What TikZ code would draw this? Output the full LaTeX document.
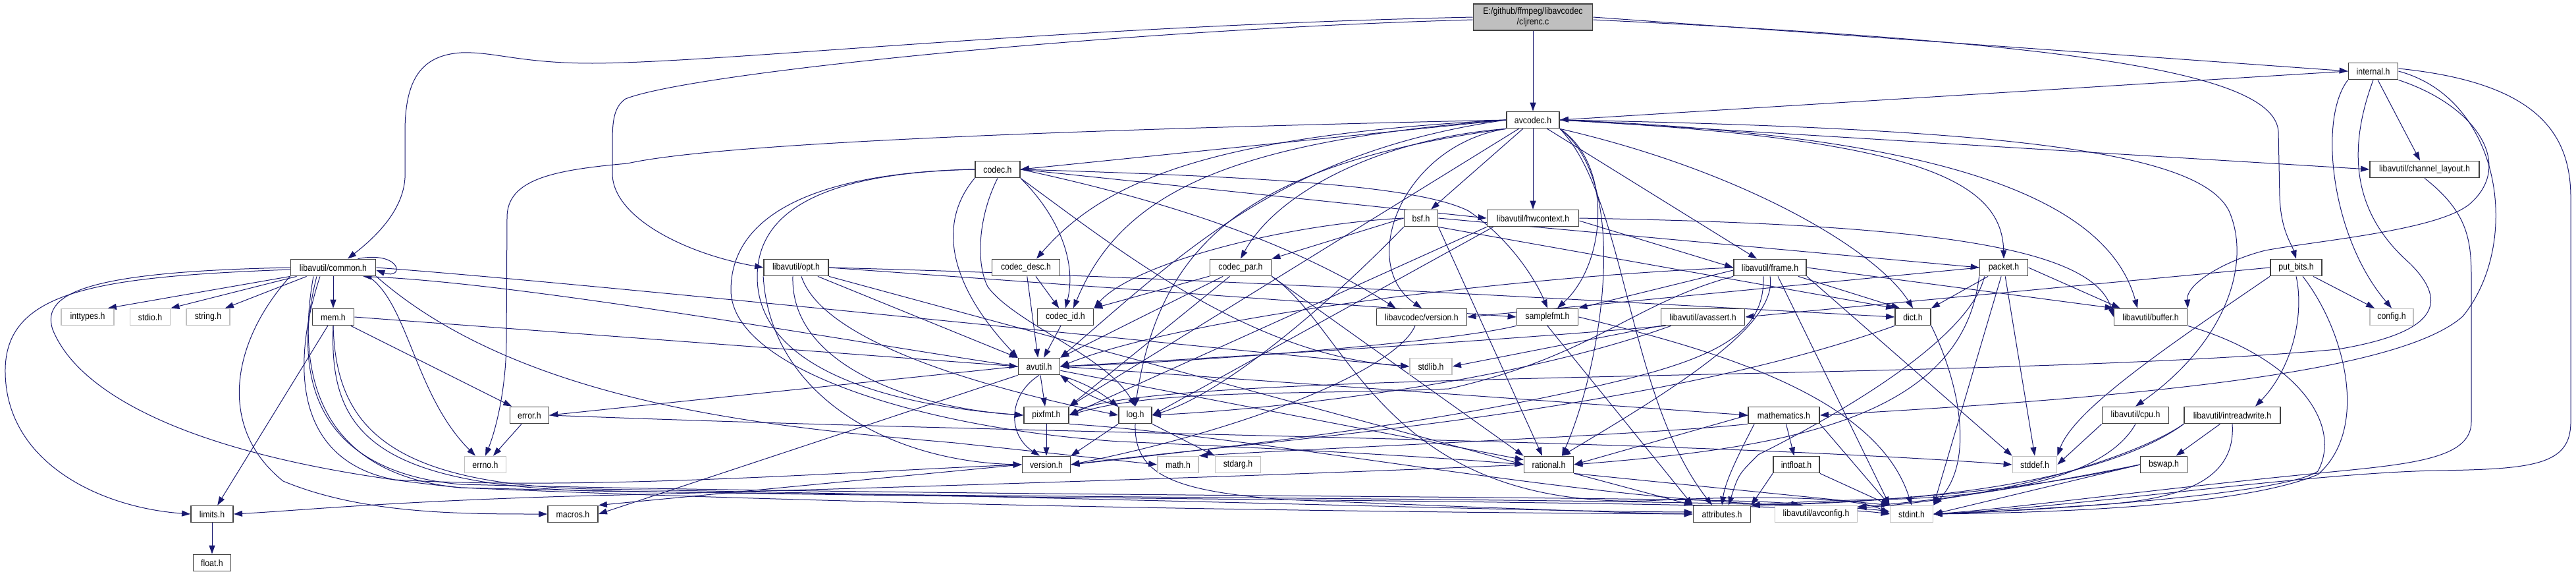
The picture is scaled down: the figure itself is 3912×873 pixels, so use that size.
\documentclass[tikz,border=0pt]{standalone}
\usepackage{fontspec}
\newfontfamily\dxfont{Liberation Sans}[FakeStretch=0.88]
\usetikzlibrary{arrows.meta}
\definecolor{edgec}{HTML}{191970}
\definecolor{ndb}{HTML}{404040}
\definecolor{ndg}{HTML}{BFBFBF}
\pgfdeclarelayer{bglayer}
\pgfdeclarelayer{edgelayer}
\pgfsetlayers{bglayer,edgelayer,main}
\begin{document}
\begin{tikzpicture}[x=1pt,y=1pt,
  nd/.style={draw=ndb, line width=1.8pt, fill=white, minimum height=25pt, inner sep=0pt, text=black, font=\dxfont\fontsize{14}{16}\selectfont},
  gnd/.style={nd, draw=ndg},
  dep/.style={draw=edgec, line width=1pt, -{Triangle[length=13pt,width=9pt]}}]
\useasboundingbox (0,0) rectangle (3912,-873);
\begin{pgfonlayer}{bglayer}
\fill[white] (0,0) rectangle (3912,-873);
\end{pgfonlayer}
% nodes
\node[nd, fill=ndg, minimum width=181pt, minimum height=40pt, align=center] (top) at (2328,-26) {E:/github/ffmpeg/libavcodec\\/cljrenc.c};
\node[nd, minimum width=80pt] (avcodec) at (2328,-182) {avcodec.h};
\node[nd, minimum width=75pt] (internal) at (3604,-108) {internal.h};
\node[nd, minimum width=68pt] (codec) at (1515,-257) {codec.h};
\node[nd, minimum width=166pt] (chlayout) at (3682,-257) {libavutil/channel\_layout.h};
\node[nd, minimum width=51pt] (bsf) at (2158,-331) {bsf.h};
\node[nd, minimum width=139pt] (hwctx) at (2328,-331) {libavutil/hwcontext.h};
\node[nd, minimum width=129pt] (common) at (506,-406) {libavutil/common.h};
\node[nd, minimum width=98pt] (opt) at (1209,-406) {libavutil/opt.h};
\node[nd, minimum width=103pt] (cdesc) at (1558,-406) {codec\_desc.h};
\node[nd, minimum width=93pt] (cpar) at (1884,-406) {codec\_par.h};
\node[nd, minimum width=110pt] (frame) at (2688,-406) {libavutil/frame.h};
\node[nd, minimum width=73pt] (packet) at (3043,-406) {packet.h};
\node[nd, minimum width=78pt] (putbits) at (3487,-406) {put\_bits.h};
\node[gnd, minimum width=80pt] (inttypes) at (133,-481) {inttypes.h};
\node[gnd, minimum width=61pt] (stdio) at (228,-481) {stdio.h};
\node[gnd, minimum width=66pt] (string) at (316,-481) {string.h};
\node[nd, minimum width=63pt] (mem) at (506,-481) {mem.h};
\node[nd, minimum width=85pt] (codecid) at (1618,-481) {codec\_id.h};
\node[nd, minimum width=137pt] (lavcver) at (2159,-481) {libavcodec/version.h};
\node[nd, minimum width=93pt] (samplefmt) at (2350,-481) {samplefmt.h};
\node[nd, minimum width=127pt] (avassert) at (2586,-481) {libavutil/avassert.h};
\node[nd, minimum width=54pt] (dict) at (2905,-481) {dict.h};
\node[nd, minimum width=111pt] (buffer) at (3266,-481) {libavutil/buffer.h};
\node[gnd, minimum width=66pt] (config) at (3632,-481) {config.h};
\node[nd, minimum width=63pt] (avutil) at (1578,-556) {avutil.h};
\node[gnd, minimum width=64pt] (stdlib) at (2173,-556) {stdlib.h};
\node[nd, minimum width=59pt] (error) at (804,-630) {error.h};
\node[nd, minimum width=68pt] (pixfmt) at (1589,-630) {pixfmt.h};
\node[nd, minimum width=50pt] (log) at (1724,-630) {log.h};
\node[nd, minimum width=108pt] (mathematics) at (2709,-630) {mathematics.h};
\node[nd, minimum width=101pt] (cpu) at (3243,-630) {libavutil/cpu.h};
\node[nd, minimum width=146pt] (intrw) at (3390,-630) {libavutil/intreadwrite.h};
\node[gnd, minimum width=63pt] (errno) at (737,-705) {errno.h};
\node[nd, minimum width=73pt] (version) at (1589,-705) {version.h};
\node[gnd, minimum width=62pt] (math) at (1789,-705) {math.h};
\node[gnd, minimum width=69pt] (stdarg) at (1880,-705) {stdarg.h};
\node[nd, minimum width=75pt] (rational) at (2352,-705) {rational.h};
\node[nd, minimum width=70pt] (intfloat) at (2728,-705) {intfloat.h};
\node[gnd, minimum width=67pt] (stddef) at (3090,-705) {stddef.h};
\node[nd, minimum width=71pt] (bswap) at (3286,-705) {bswap.h};
\node[nd, minimum width=64pt] (limits) at (322,-780) {limits.h};
\node[nd, minimum width=76pt] (macros) at (870,-780) {macros.h};
\node[nd, minimum width=87pt] (attributes) at (2615,-780) {attributes.h};
\node[gnd, minimum width=125pt] (avconfig) at (2758,-780) {libavutil/avconfig.h};
\node[gnd, minimum width=65pt] (stdint) at (2903,-780) {stdint.h};
\node[nd, minimum width=57pt] (float) at (322,-854) {float.h};
\begin{pgfonlayer}{edgelayer}
% top
\draw[dep] (top) -- (avcodec);
\draw[dep] (top.west) .. controls (1600,-40) and (1100,-95) .. (900,-96) .. controls (790,-96) and (750,-78) .. (700,-80) .. controls (640,-84) and (615,-120) .. (615,-200) -- (615,-270) .. controls (612,-320) and (570,-360) .. ([xshift=22pt]common.north);
\draw[dep] ([yshift=-4pt]top.west) .. controls (1700,-45) and (1050,-110) .. (950,-150) .. controls (932,-162) and (930,-185) .. (930,-215) -- (930,-265) .. controls (932,-330) and (1040,-385) .. (opt.west);
\draw[dep] (top.east) -- (internal.west);
\draw[dep] ([yshift=-4pt]top.east) .. controls (3150,-65) and (3455,-110) .. (3460,-200) -- (3462,-300) .. controls (3464,-350) and (3480,-370) .. (putbits.north);
% avcodec
\draw[dep] (avcodec.west) .. controls (1700,-195) and (1100,-215) .. (953,-248) .. controls (840,-258) and (770,-272) .. (770,-330) -- (769,-520) .. controls (768,-600) and (750,-660) .. (errno.north);
\draw[dep] (avcodec.west) -- (codec.east);
\draw[dep] (avcodec.west) .. controls (1850,-205) and (1680,-270) .. ([xshift=16pt]cdesc.north);
\draw[dep] (avcodec.south west) .. controls (2100,-210) and (1940,-290) .. (cpar.north);
\draw[dep] (avcodec) -- (bsf);
\draw[dep] (avcodec) -- (hwctx);
\draw[dep] (avcodec.west) .. controls (1850,-215) and (1700,-300) .. ([xshift=12pt]codecid.north);
\draw[dep] (avcodec.west) .. controls (1950,-230) and (1800,-380) .. (avutil.north east);
\draw[dep] (avcodec.south west) .. controls (1880,-250) and (1760,-380) .. (log.north);
\draw[dep] (avcodec) -- (pixfmt.north east);
\draw[dep] (avcodec.south east) .. controls (2480,-280) and (2430,-560) .. ([xshift=20pt]rational.north);
\draw[dep] (avcodec.south east) .. controls (2450,-250) and (2440,-400) .. ([xshift=15pt]samplefmt.north);
\draw[dep] (avcodec.south west) .. controls (2130,-220) and (2060,-400) .. (lavcver.north);
\draw[dep] (avcodec) -- ([xshift=-20pt]frame.north);
\draw[dep] (avcodec.east) .. controls (2900,-210) and (3040,-270) .. (packet.north);
\draw[dep] (avcodec.south east) .. controls (2650,-260) and (2850,-380) .. (dict.north);
\draw[dep] (avcodec.east) .. controls (2950,-205) and (3200,-300) .. ([xshift=-20pt]buffer.north);
\draw[dep] (avcodec.east) .. controls (3050,-195) and (3340,-230) .. (3385,-320) .. controls (3420,-400) and (3380,-520) .. (cpu.north);
\draw[dep] (avcodec.east) -- (chlayout.west);
\draw[dep] (avcodec.south east) .. controls (2470,-300) and (2470,-600) .. ([xshift=-15pt]attributes.north);
% internal
\draw[dep] (internal.west) -- (avcodec.east);
\draw[dep] (internal) -- (chlayout);
\draw[dep] (internal.south west) .. controls (3520,-180) and (3540,-360) .. (config.north);
\draw[dep] (internal.south east) .. controls (3760,-160) and (3820,-250) .. (3750,-310) .. controls (3700,-350) and (3520,-365) .. (3440,-380) .. controls (3380,-395) and (3320,-430) .. (buffer.north east);
\draw[dep] (internal.south) .. controls (3560,-240) and (3580,-330) .. (3660,-400) .. controls (3720,-460) and (3700,-505) .. (3550,-530) .. controls (3000,-580) and (1750,-560) .. (pixfmt.east);
\draw[dep] (internal.east) .. controls (3800,-150) and (3830,-370) .. (3740,-480) .. controls (3650,-560) and (3300,-600) .. (mathematics.east);
\draw[dep] ([yshift=4pt]internal.east) .. controls (3850,-125) and (3904,-200) .. (3904,-300) -- (3904,-640) .. controls (3904,-705) and (3850,-712) .. (3700,-714) .. controls (3500,-718) and (3150,-770) .. (stdint.east);
% put_bits
\draw[dep] (putbits) -- (config);
\draw[dep] (putbits.south) .. controls (3500,-480) and (3480,-560) .. ([xshift=35pt]intrw.north);
\draw[dep] ([xshift=10pt]putbits.south) .. controls (3560,-500) and (3600,-650) .. (3520,-720) .. controls (3400,-770) and (3100,-778) .. (stdint.east);
\draw[dep] (putbits.south west) .. controls (3300,-520) and (3150,-620) .. (stddef.north east);
\draw[dep] (putbits.west) -- (avassert.east);
% common
\draw[dep] (common.south west) -- ([xshift=-10pt]inttypes.north east);
\draw[dep] ([xshift=10pt]common.south west) -- (stdio.north east);
\draw[dep] ([xshift=25pt]common.south west) -- ([xshift=-8pt]string.north east);
\draw[dep] (common) -- (mem);
\draw[dep] ([yshift=-3pt]common.west) .. controls (150,-420) and (10,-440) .. (8,-560) .. controls (6,-700) and (150,-770) .. (limits.west);
\draw[dep] ([xshift=-12pt]common.south east) .. controls (620,-460) and (630,-600) .. ([xshift=-15pt]errno.north);
\draw[dep] (common.south east) .. controls (800,-620) and (1200,-650) .. (1450,-672) -- (math.west);
\draw[dep] ([xshift=-30pt]common.south) .. controls (450,-560) and (480,-720) .. (700,-740) .. controls (1500,-760) and (2700,-758) .. (stdint.west);
\draw[dep] ([xshift=-20pt]common.south) .. controls (440,-560) and (450,-700) .. (600,-728) .. controls (900,-745) and (1300,-715) .. (version.west);
\draw[dep] (common.south west) .. controls (350,-520) and (330,-650) .. (430,-730) .. controls (550,-780) and (700,-780) .. (macros.west);
\draw[dep] ([xshift=-25pt]common.south) .. controls (445,-560) and (470,-715) .. (700,-735) .. controls (1500,-755) and (2650,-752) .. ([xshift=-25pt]avconfig.north);
\draw[dep] (common.east) .. controls (900,-430) and (1900,-535) .. (stdlib.west);
\draw[dep] (common.west) .. controls (150,-412) and (60,-440) .. (80,-500) .. controls (120,-600) and (300,-700) .. (700,-740) .. controls (1400,-770) and (2200,-778) .. (attributes.west);
\draw[dep] ([xshift=-28pt]common.north east) .. controls (610,-380) and (615,-425) .. ([yshift=-4pt]common.east);
% mem
\draw[dep] (mem) -- (limits);
\draw[dep] (mem.south) .. controls (500,-650) and (560,-735) .. (900,-745) .. controls (1800,-758) and (2700,-756) .. ([yshift=4pt]stdint.west);
\draw[dep] (mem.south) .. controls (510,-640) and (580,-735) .. (900,-742) .. controls (1700,-755) and (2300,-776) .. ([yshift=3pt]attributes.west);
\draw[dep] (mem) -- (error);
\draw[dep] (mem.east) -- (avutil.west);
% opt
\draw[dep] (opt.south east) -- (rational.west);
\draw[dep] (opt) -- (avutil);
\draw[dep] (opt.east) .. controls (1800,-420) and (2400,-455) .. (dict.west);
\draw[dep] ([xshift=8pt]opt.south) .. controls (1250,-520) and (1500,-590) .. (log.west);
\draw[dep] ([xshift=-5pt]opt.south) .. controls (1200,-560) and (1400,-620) .. (pixfmt.west);
\draw[dep] (opt.east) -- (samplefmt.west);
\draw[dep] (opt.south west) .. controls (1170,-600) and (1350,-700) .. (version.west);
% codec
\draw[dep] (codec.south west) .. controls (1430,-330) and (1430,-420) .. (avutil.north west);
\draw[dep] (codec.south) .. controls (1485,-330) and (1482,-400) .. (1500,-435) .. controls (1540,-490) and (1680,-540) .. (log.north);
\draw[dep] (codec.south east) .. controls (1610,-330) and (1635,-400) .. (codecid.north);
\draw[dep] (codec.east) -- (hwctx.west);
\draw[dep] (codec.east) .. controls (1900,-268) and (2150,-280) .. (2230,-320) .. controls (2290,-360) and (2330,-420) .. (samplefmt.north);
\draw[dep] (codec.east) .. controls (1750,-300) and (1950,-360) .. ([xshift=30pt]lavcver.north west);
\draw[dep] (codec.west) .. controls (1250,-262) and (1150,-320) .. (1150,-420) .. controls (1150,-560) and (1350,-615) .. (pixfmt.west);
\draw[dep] (codec.west) .. controls (1230,-262) and (1110,-330) .. (1110,-440) .. controls (1110,-560) and (1400,-650) .. (1700,-670) .. controls (2000,-683) and (2200,-695) .. (rational.west);
\draw[dep] (codec.south east) .. controls (1700,-380) and (1900,-540) .. (stdlib.west);
% codec_desc
\draw[dep] (cdesc) -- (avutil);
\draw[dep] ([xshift=15pt]cdesc.south) -- (codecid);
% codec_par
\draw[dep] (cpar) -- (codecid.north east);
\draw[dep] (cpar) -- (avutil.north east);
\draw[dep] (cpar) -- (pixfmt.north east);
\draw[dep] (cpar.south east) -- (rational.north west);
\draw[dep] (cpar.south east) .. controls (2050,-500) and (2100,-770) .. (2500,-760) .. controls (2650,-752) and (2820,-752) .. (stdint.west);
% bsf
\draw[dep] (bsf.east) -- (packet.west);
\draw[dep] (bsf.south east) -- (dict.north west);
\draw[dep] (bsf.south west) .. controls (2000,-480) and (1850,-600) .. (log.east);
\draw[dep] (bsf.south east) -- ([xshift=-10pt]rational.north);
\draw[dep] (bsf.west) .. controls (1950,-340) and (1720,-400) .. (codecid.north east);
\draw[dep] (bsf.west) -- (cpar.north east);
% hwcontext
\draw[dep] (hwctx.east) .. controls (2900,-340) and (3180,-370) .. (buffer.west);
\draw[dep] ([yshift=-4pt]hwctx.east) -- (frame.west);
\draw[dep] ([xshift=10pt]hwctx.south west) -- (log.east);
\draw[dep] (hwctx.south west) -- (pixfmt.east);
% frame
\draw[dep] (frame.south east) -- (stddef.north west);
\draw[dep] ([xshift=12pt]frame.south) -- (stdint.north west);
\draw[dep] (frame.west) .. controls (2300,-420) and (1800,-480) .. (avutil.east);
\draw[dep] (frame.east) -- (buffer.north west);
\draw[dep] (frame) -- ([xshift=8pt]dict.north west);
\draw[dep] (frame.south) .. controls (2700,-490) and (2560,-580) .. ([xshift=20pt]rational.north);
\draw[dep] ([yshift=-4pt]frame.west) -- (samplefmt.north east);
\draw[dep] (frame.south west) .. controls (2480,-460) and (2420,-540) .. (2200,-590) .. controls (1950,-600) and (1760,-590) .. (pixfmt.east);
\draw[dep] ([xshift=-10pt]frame.south) .. controls (2680,-500) and (2620,-540) .. (2450,-580) .. controls (2200,-640) and (1900,-675) .. (version.east);
% packet
\draw[dep] (packet) -- (stddef.north);
\draw[dep] (packet) -- (stdint.north east);
\draw[dep] ([xshift=8pt]packet.south west) .. controls (2990,-520) and (2770,-640) .. (2670,-690) .. controls (2640,-720) .. ([xshift=10pt]attributes.north);
\draw[dep] (packet.east) -- ([xshift=10pt]buffer.north west);
\draw[dep] (packet) -- (dict.north east);
\draw[dep] (packet.south west) .. controls (2980,-640) and (2700,-680) .. (rational.east);
\draw[dep] (packet.west) -- (lavcver.east);
% channel_layout
\draw[dep] (chlayout.south) .. controls (3745,-320) and (3753,-360) .. (3753,-420) -- (3753,-640) .. controls (3753,-700) and (3650,-705) .. (3500,-720) .. controls (3250,-745) and (3050,-772) .. (stdint.east);
% libavcodec/version
\draw[dep] ([xshift=-10pt]lavcver.south) .. controls (2120,-560) and (1900,-650) .. (version.east);
% samplefmt
\draw[dep] (samplefmt.east) .. controls (2600,-530) and (2850,-600) .. (stdint.north);
\draw[dep] (samplefmt.south west) .. controls (2200,-520) and (1800,-550) .. (avutil.east);
\draw[dep] (samplefmt.south) -- (attributes.north west);
% avassert
\draw[dep] (avassert.south west) -- (stdlib.east);
\draw[dep] ([xshift=8pt]avassert.south west) .. controls (2300,-515) and (1900,-540) .. (avutil.east);
\draw[dep] ([xshift=16pt]avassert.south west) .. controls (2300,-580) and (1950,-620) .. (log.east);
% dict
\draw[dep] (dict.south east) .. controls (2975,-580) and (3000,-700) .. (stdint.north east);
\draw[dep] (dict.south west) .. controls (2500,-630) and (1900,-670) .. (version.east);
% buffer
\draw[dep] (buffer.south east) .. controls (3480,-540) and (3560,-640) .. (3520,-715) .. controls (3470,-750) and (3100,-775) .. (stdint.east);
% cpu
\draw[dep] (cpu.south west) -- (stddef.east);
\draw[dep] (cpu.south) .. controls (3200,-720) and (3050,-755) .. (2850,-758) .. controls (2750,-760) and (2700,-764) .. (attributes.north east);
% intreadwrite
\draw[dep] (intrw.south) .. controls (3395,-720) and (3330,-755) .. (3200,-765) .. controls (3050,-775) .. (stdint.east);
\draw[dep] (intrw.south west) .. controls (3250,-690) and (3050,-755) .. ([yshift=-4pt]avconfig.north east);
\draw[dep] (intrw.south west) .. controls (3240,-700) and (3050,-760) .. (attributes.north east);
\draw[dep] (intrw) -- (bswap);
% bswap
\draw[dep] (bswap.west) -- (stdint.east);
\draw[dep] (bswap.west) .. controls (3100,-735) and (2950,-760) .. ([yshift=-2pt]avconfig.north east);
\draw[dep] (bswap.west) .. controls (3100,-740) and (2900,-760) .. (attributes.north east);
% mathematics
\draw[dep] (mathematics.south east) -- (stdint.north west);
\draw[dep] (mathematics.south west) .. controls (2500,-660) and (2000,-680) .. (math.north east);
\draw[dep] ([xshift=10pt]mathematics.south west) .. controls (2640,-690) and (2620,-730) .. (attributes.north);
\draw[dep] (mathematics.west) -- (rational.east);
\draw[dep] (mathematics) -- (intfloat);
% intfloat
\draw[dep] (intfloat.south east) -- (stdint.north west);
\draw[dep] (intfloat.south west) -- (attributes.north east);
% avutil
\draw[dep] (avutil.west) .. controls (1300,-520) and (800,-430) .. ([xshift=-20pt]common.south east);
\draw[dep] (avutil.west) -- (error.east);
\draw[dep] (avutil) -- (rational);
\draw[dep] (avutil.south) .. controls (1530,-600) and (1530,-660) .. ([xshift=-10pt]version.north);
\draw[dep] (avutil.south west) -- (macros.east);
\draw[dep] (avutil.east) -- (mathematics.west);
\draw[dep] (avutil.south east) to[bend left=10] (log.north west);
\draw[dep] (avutil) -- (pixfmt);
% error
\draw[dep] (error) -- (errno);
\draw[dep] (error.east) .. controls (1600,-660) and (2500,-665) .. (stddef.west);
% pixfmt
\draw[dep] (pixfmt) -- (version);
\draw[dep] (pixfmt.south east) .. controls (1900,-660) and (2400,-760) .. ([xshift=-20pt]avconfig.north);
% log
\draw[dep] (log.north west) to[bend left=10] (avutil.south east);
\draw[dep] (log.south east) -- (stdarg.north west);
\draw[dep] (log.south) .. controls (1722,-720) and (1780,-745) .. (1950,-758) .. controls (2200,-768) and (2450,-778) .. (attributes.west);
\draw[dep] (log.south west) -- (version.north east);
% version
\draw[dep] (version.west) -- (macros.north east);
% rational
\draw[dep] (rational.south east) -- (stdint.north west);
\draw[dep] (rational.west) .. controls (2000,-720) and (1200,-745) .. (900,-752) .. controls (600,-760) and (450,-775) .. (limits.east);
\draw[dep] (rational.south east) -- (attributes.north west);
% codec_id
\draw[dep] (codecid) -- (avutil);
% limits
\draw[dep] (limits) -- (float);
\end{pgfonlayer}
\end{tikzpicture}
\end{document}
